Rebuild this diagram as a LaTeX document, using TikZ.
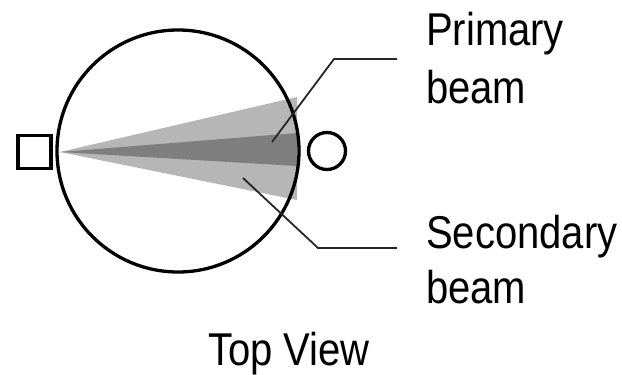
\documentclass[tikz,border=0pt]{standalone}
\usepackage{fontspec}
\setmainfont{Liberation Sans}
\definecolor{lightbeam}{HTML}{B6B6B6}
\definecolor{darkbeam}{HTML}{7E7E7E}
\begin{document}
\begin{tikzpicture}[x=1pt,y=-1pt,
  lbl/.style={anchor=base west,inner sep=0pt,font=\fontsize{46}{56}\selectfont,xscale=0.87},
  outline/.style={draw=black,line width=3.3pt},
  leader/.style={draw=black!85,line width=1.8pt}]
\useasboundingbox (0,0) rectangle (622,375);
% beams
\coordinate (apex) at (60,152);
\fill[lightbeam] (apex) -- (297,97) -- (297,200) -- cycle;
\fill[darkbeam] (apex) -- (297,133) -- (297,166) -- cycle;
% main circle
\node[outline,circle,minimum size=242pt,inner sep=0pt] (ball) at (178,151) {};
% square and small circle
\node[outline,rectangle,minimum size=33pt,inner sep=0pt] (src) at (34.5,152) {};
\node[outline,circle,minimum size=37pt,inner sep=0pt] (det) at (327,151) {};
% leader lines
\coordinate (pA) at (272,142);
\coordinate (pB) at (334,59);
\coordinate (pC) at (397,59);
\coordinate (sA) at (243,178);
\coordinate (sB) at (318,248);
\coordinate (sC) at (397,248);
\draw[leader] (pA) -- (pB) -- (pC);
\draw[leader] (sA) -- (sB) -- (sC);
% labels
\node[lbl] (prim1) at (426,45) {Primary};
\node[lbl] (prim2) at (426,103) {beam};
\node[lbl] (sec1) at (426,248) {Secondary};
\node[lbl] (sec2) at (426,303) {beam};
\node[lbl] (title) at (208,365) {Top View};
\end{tikzpicture}
\end{document}
